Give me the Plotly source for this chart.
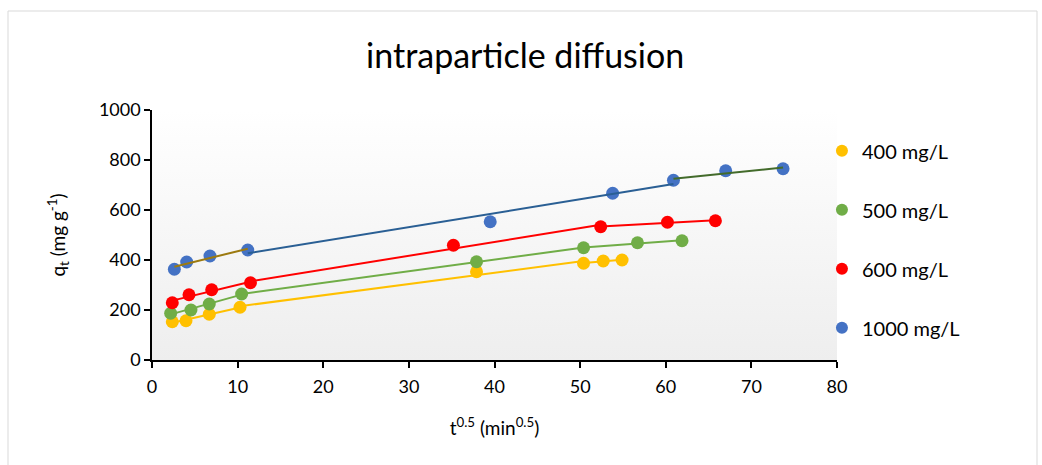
import numpy as np
import plotly.graph_objects as go

# ---- data ----
series_names = ["400 mg/L", "500 mg/L", "600 mg/L", "1000 mg/L"]

t_400 = [2.37, 3.97, 6.69, 10.28, 37.9, 50.4, 52.7, 54.9]
q_400 = [153, 157, 183, 211, 353, 387, 396, 400]

t_500 = [2.18, 4.55, 6.69, 10.47, 37.9, 50.4, 56.7, 61.9]
q_500 = [187, 200, 224, 264, 393, 449, 469, 477]

t_600 = [2.37, 4.32, 6.97, 11.5, 35.2, 52.4, 60.2, 65.8]
q_600 = [229, 261, 281, 309, 459, 533, 551, 557]

t_1000 = [2.61, 4.05, 6.77, 11.18, 39.5, 53.8, 60.9, 67.0, 73.7]
q_1000 = [363, 392, 416, 440, 553, 667, 719, 757, 765]

# point-index ranges (inclusive start, exclusive end) of each linear trend segment
seg_400 = [(0, 4), (3, 6), (5, 8)]
seg_500 = [(0, 4), (3, 6), (5, 8)]
seg_600 = [(0, 4), (3, 6), (5, 8)]
seg_1000 = [(0, 4), (3, 7), (6, 9)]

x_ticks = [0, 10, 20, 30, 40, 50, 60, 70, 80]
y_ticks = [0, 200, 400, 600, 800, 1000]

# ---- styles ----
marker_colors = ["#FFC000", "#70AD47", "#FF0000", "#4472C4"]
seg_colors = [
    ["#FFC000", "#FFC000", "#FFC000"],
    ["#70AD47", "#70AD47", "#70AD47"],
    ["#FF0000", "#FF0000", "#FF0000"],
    ["#9C7A10", "#2A5F94", "#436B2B"],
]
FONT = "Lato, 'Open Sans', sans-serif"

all_t = [t_400, t_500, t_600, t_1000]
all_q = [q_400, q_500, q_600, q_1000]
all_seg = [seg_400, seg_500, seg_600, seg_1000]

fig = go.Figure()

# plot-area gradient background
fig.add_trace(go.Scatter(
    x=[0, 80, 80, 0, 0], y=[0, 0, 1000, 1000, 0],
    mode="none", fill="toself",
    fillgradient=dict(type="vertical",
                      colorscale=[[0, "#eeeeee"], [1, "#ffffff"]],
                      start=0, stop=1000),
    showlegend=False, hoverinfo="skip",
))

for i, name in enumerate(series_names):
    fig.add_trace(go.Scatter(
        x=all_t[i], y=all_q[i], mode="markers", name=name,
        legendgroup=name,
        marker=dict(color=marker_colors[i], size=13, line=dict(width=0)),
    ))

for i, name in enumerate(series_names):
    t = np.array(all_t[i], dtype=float)
    q = np.array(all_q[i], dtype=float)
    for k, (a, b) in enumerate(all_seg[i]):
        m, c = np.polyfit(t[a:b], q[a:b], 1)
        xs = np.array([t[a], t[b - 1]])
        fig.add_trace(go.Scatter(
            x=xs, y=m * xs + c, mode="lines",
            line=dict(color=seg_colors[i][k], width=2),
            showlegend=False, hoverinfo="skip", legendgroup=name,
        ))

# outer chart border
fig.add_shape(type="rect", xref="paper", yref="paper",
              x0=(8 - 152) / 685, x1=(1037 - 152) / 685,
              y0=(360 - 480) / 250, y1=(360 - 11) / 250,
              line=dict(color="#d9d9d9", width=1), fillcolor="rgba(0,0,0,0)",
              layer="below")

fig.update_layout(
    width=1042, height=465,
    margin=dict(l=152, r=205, t=110, b=105),
    paper_bgcolor="white", plot_bgcolor="white",
    font=dict(family=FONT, color="#000000"),
    title=dict(text="intraparticle diffusion", x=0.504, xanchor="center",
               y=1 - 56 / 465, yanchor="middle",
               font=dict(family=FONT, size=34, color="#000000")),
    showlegend=True,
    legend=dict(x=0.978, xanchor="left", y=0.915, yanchor="top",
                font=dict(family=FONT, size=20, color="#000000"),
                tracegroupgap=30, bgcolor="rgba(0,0,0,0)",
                itemsizing="constant"),
    xaxis=dict(range=[0, 80], tickvals=x_ticks, ticktext=[str(v) for v in x_ticks],
               showgrid=False, zeroline=False, showline=True,
               linecolor="#000000", linewidth=1.5,
               ticks="outside", ticklen=6, tickwidth=1.5, tickcolor="#000000",
               ticklabelstandoff=4,
               tickfont=dict(family=FONT, size=18),
               title=dict(text="t<sup>0.5</sup> (min<sup>0.5</sup>)",
                          font=dict(family=FONT, size=19), standoff=25)),
    yaxis=dict(range=[0, 1000], tickvals=y_ticks, ticktext=[str(v) for v in y_ticks],
               showgrid=False, zeroline=False, showline=True,
               linecolor="#000000", linewidth=1.5,
               ticks="outside", ticklen=6, tickwidth=1.5, tickcolor="#000000",
               tickfont=dict(family=FONT, size=18),
               title=dict(text="q<sub>t</sub> (mg g<sup>-1</sup>)",
                          font=dict(family=FONT, size=19), standoff=28)),
)

fig.write_html("out.html")
